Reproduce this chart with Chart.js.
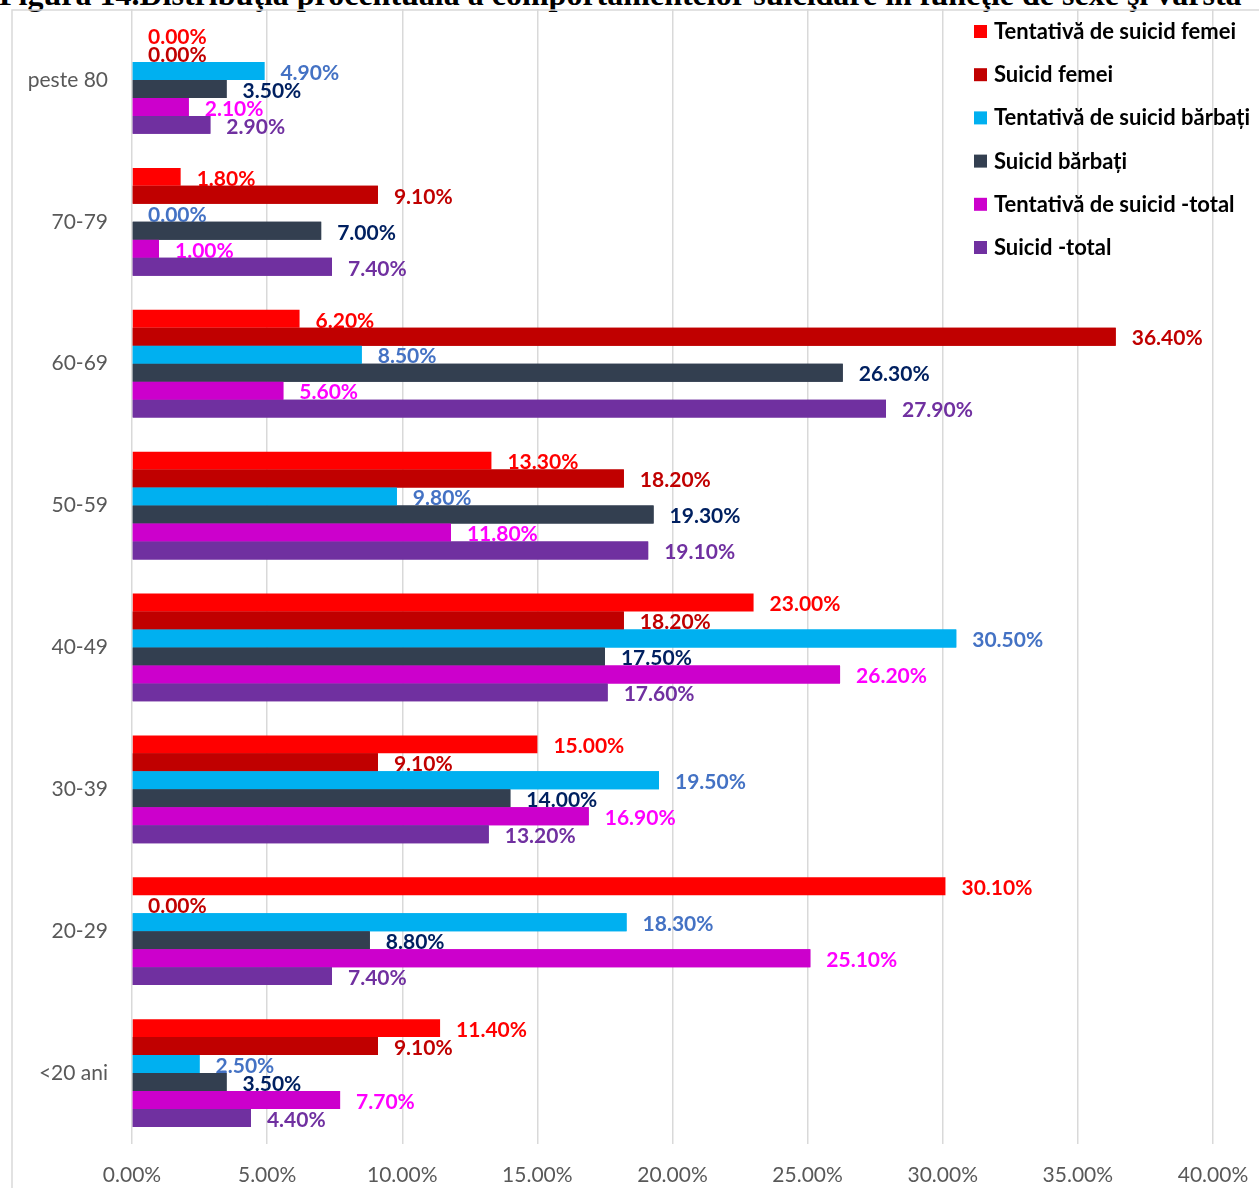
<!DOCTYPE html>
<html lang="ro">
<head>
    <meta charset="UTF-8">
    <title>Distribuția procentuală a comportamentelor suicidare</title>
    <script src="https://cdn.jsdelivr.net/npm/chart.js"></script>
    <style>
        html, body {
            margin: 0;
            padding: 0;
            background: #ffffff;
            overflow: hidden;
        }
        .caption {
            position: absolute;
            left: -1px;
            top: -22px;
            white-space: nowrap;
            font-family: "Liberation Serif", "DejaVu Serif", serif;
            font-weight: bold;
            font-size: 32px;
            line-height: 32px;
            color: #000;
        }
        .chart-box {
            position: absolute;
            left: 0;
            top: 0;
            width: 1259px;
            height: 1188px;
        }
    </style>
</head>
<body>
    <div class="caption">Figura 14.Distribuţia procentuală a comportamentelor suicidare în funcţie de sexe şi vârsta</div>
    <div class="chart-box">
        <canvas id="ageChart"></canvas>
    </div>

    <script>
        // grupe de vârstă (de sus în jos)
        const ageGroups = ['peste 80', '70-79', '60-69', '50-59', '40-49', '30-39', '20-29', '<20 ani'];

        const seriesNames = [
            'Tentativă de suicid femei',
            'Suicid femei',
            'Tentativă de suicid bărbați',
            'Suicid bărbați',
            'Tentativă de suicid -total',
            'Suicid -total'
        ];

        // procente pe grupe de vârstă
        const tentativaFemei   = [0.0, 1.8, 6.2, 13.3, 23.0, 15.0, 30.1, 11.4];
        const suicidFemei      = [0.0, 9.1, 36.4, 18.2, 18.2, 9.1, 0.0, 9.1];
        const tentativaBarbati = [4.9, 0.0, 8.5, 9.8, 30.5, 19.5, 18.3, 2.5];
        const suicidBarbati    = [3.5, 7.0, 26.3, 19.3, 17.5, 14.0, 8.8, 3.5];
        const tentativaTotal   = [2.1, 1.0, 5.6, 11.8, 26.2, 16.9, 25.1, 7.7];
        const suicidTotal      = [2.9, 7.4, 27.9, 19.1, 17.6, 13.2, 7.4, 4.4];

        const barColors   = ['#ff0000', '#c00000', '#00b0f0', '#333f50', '#cc00cc', '#7030a0'];
        const labelColors = ['#ff0000', '#c00000', '#4472c4', '#002060', '#ff00ff', '#7030a0'];

        const xTicks = [0, 5, 10, 15, 20, 25, 30, 35, 40];

        const seriesValues = [tentativaFemei, suicidFemei, tentativaBarbati, suicidBarbati, tentativaTotal, suicidTotal];

        const pct = v => v.toFixed(2) + '%';
        const FONT = 'Lato, "Open Sans", sans-serif';

        // etichete de valoare; barele seriei următoare se redesenează peste eticheta precedentă
        const barValues = {
            id: 'barValues',
            afterDatasetsDraw(chart) {
                const ctx = chart.ctx;
                chart.data.datasets.forEach((ds, i) => {
                    const meta = chart.getDatasetMeta(i);
                    if (i > 0) meta.controller.draw();
                    ctx.save();
                    ctx.font = 'bold 21px ' + FONT;
                    ctx.fillStyle = labelColors[i];
                    ctx.textAlign = 'left';
                    ctx.textBaseline = 'middle';
                    meta.data.forEach((bar, j) => {
                        ctx.fillText(pct(ds.data[j]), bar.x + 16, bar.y + 2);
                    });
                    ctx.restore();
                });
            }
        };

        // legenda în colțul din dreapta sus, peste zona graficului
        const cornerLegend = {
            id: 'cornerLegend',
            afterDraw(chart) {
                const ctx = chart.ctx;
                ctx.save();
                ctx.font = 'bold 22px ' + FONT;
                ctx.textBaseline = 'middle';
                ctx.textAlign = 'left';
                seriesNames.forEach((name, i) => {
                    const y = 31 + i * 43.2;
                    ctx.fillStyle = barColors[i];
                    ctx.fillRect(974, y - 6, 13, 13);
                    ctx.fillStyle = '#000000';
                    ctx.fillText(name, 994, y + 1);
                });
                ctx.restore();
            }
        };

        // chenarul zonei diagramei
        const frame = {
            id: 'frame',
            beforeDraw(chart) {
                const ctx = chart.ctx;
                ctx.save();
                ctx.strokeStyle = '#d9d9d9';
                ctx.lineWidth = 1.5;
                ctx.beginPath();
                ctx.moveTo(12, chart.height);
                ctx.lineTo(12, 10);
                ctx.lineTo(chart.width, 10);
                ctx.stroke();
                ctx.restore();
            }
        };

        new Chart(document.getElementById('ageChart'), {
            type: 'bar',
            data: {
                labels: ageGroups,
                datasets: seriesNames.map((name, i) => ({
                    label: name,
                    data: seriesValues[i],
                    backgroundColor: barColors[i],
                    borderWidth: 0,
                    categoryPercentage: 0.76,
                    barPercentage: 1.0
                }))
            },
            options: {
                indexAxis: 'y',
                responsive: true,
                maintainAspectRatio: false,
                animation: false,
                layout: {
                    padding: { top: 9, left: 12, right: 46, bottom: 0 }
                },
                plugins: {
                    legend: { display: false },
                    tooltip: { enabled: false }
                },
                scales: {
                    x: {
                        min: 0,
                        max: 40,
                        afterBuildTicks: scale => {
                            scale.ticks = xTicks.map(v => ({ value: v }));
                        },
                        afterFit: scale => {
                            scale.height = 44;
                            scale.paddingLeft = 0;
                            scale.paddingRight = 0;
                        },
                        ticks: {
                            callback: v => pct(v),
                            color: '#595959',
                            font: { family: FONT, size: 21 },
                            padding: 19,
                            maxRotation: 0
                        },
                        grid: {
                            color: '#d9d9d9',
                            lineWidth: 1.5,
                            drawTicks: false
                        },
                        border: { display: false }
                    },
                    y: {
                        afterFit: scale => {
                            scale.width = 120;
                            scale.paddingTop = 0;
                            scale.paddingBottom = 0;
                        },
                        ticks: {
                            color: '#595959',
                            font: { family: FONT, size: 21 },
                            padding: 24
                        },
                        grid: { display: false, drawTicks: false },
                        border: { display: false }
                    }
                }
            },
            plugins: [frame, barValues, cornerLegend]
        });
    </script>
</body>
</html>
